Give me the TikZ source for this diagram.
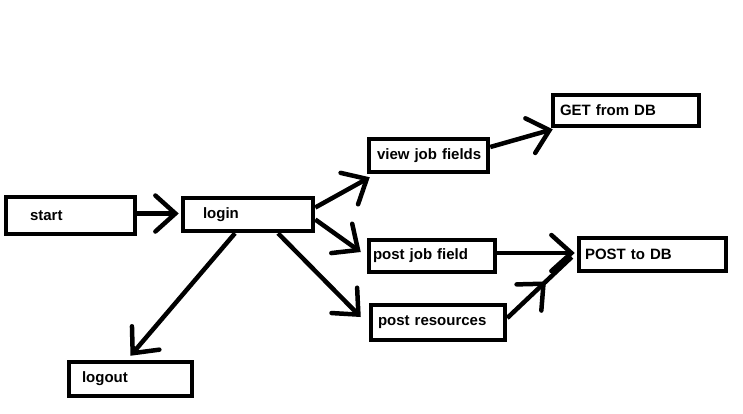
\documentclass[tikz,border=0pt]{standalone}
\usepackage{fontspec}
\setmainfont{Liberation Sans}
\usetikzlibrary{arrows.meta,decorations.markings}
\tikzset{
  box/.style={draw, line width=4.5pt, minimum height=#1, inner ysep=0pt, inner xsep=0pt, align=left,
    font=\fontsize{15}{18}\bfseries\selectfont},
  conn/.style={line width=4.5pt, -{Straight Barb[length=20pt,width=36pt,line cap=round]}},
  plain/.style={line width=4.5pt},
}
\newcommand{\lbl}[2]{\hspace*{#1}\rlap{#2}}
\begin{document}
\begin{tikzpicture}[x=1pt,y=-1pt]
\useasboundingbox[fill=white] (0,0) rectangle (743,413);
\node[box=37pt, text width=129pt] (start) at (70.5,215.5) {\lbl{24pt}{start}};
\node[box=33pt, text width=130pt] (login) at (248,214.5) {\lbl{20pt}{login}};
\node[box=34pt, text width=123pt] (logout) at (130.5,379) {\lbl{13pt}{logout}};
\node[box=33pt, text width=119pt] (view) at (428.5,155.5) {\lbl{8pt}{view job fields}};
\node[box=31pt, text width=146pt] (get) at (626,110.5) {\lbl{7pt}{GET from DB}};
\node[box=32pt, text width=126pt] (pjf) at (432,256) {\lbl{4pt}{post job field}};
\node[box=33pt, text width=147pt] (post) at (652.5,254.5) {\lbl{6pt}{POST to DB}};
\node[box=35pt, text width=134pt] (pr) at (438,322.5) {\lbl{7pt}{post resources}};
% connectors
\draw[conn] ([yshift=2pt]start.east) -- ([yshift=1pt,xshift=-2pt]login.west);
\draw[conn] ([yshift=7pt]login.east) -- ([xshift=3pt,yshift=-3pt]view.south west);
\draw[conn] ([yshift=-5pt]login.east) -- ([xshift=-6pt,yshift=4pt]pjf.west);
\draw[conn] ([xshift=30pt]login.south) -- ([xshift=-8pt,yshift=5.5pt]pr.west);
\draw[conn] ([xshift=-13pt]login.south) -- ([yshift=4pt]logout.north);
\draw[conn] ([yshift=8.5pt]view.east) -- ([xshift=2pt,yshift=-1pt]get.south west);
\draw[conn] ([yshift=3pt]pjf.east) -- ([xshift=-2pt,yshift=1.5pt]post.west);
\draw[plain, postaction={decorate}, decoration={markings,
    mark=at position 0.6 with {\arrow{Straight Barb[length=20pt,width=36pt,line cap=round]}}}]
  ([yshift=4.5pt]pr.east) -- ([xshift=-5pt,yshift=-2.5pt]post.west);
\end{tikzpicture}
\end{document}
